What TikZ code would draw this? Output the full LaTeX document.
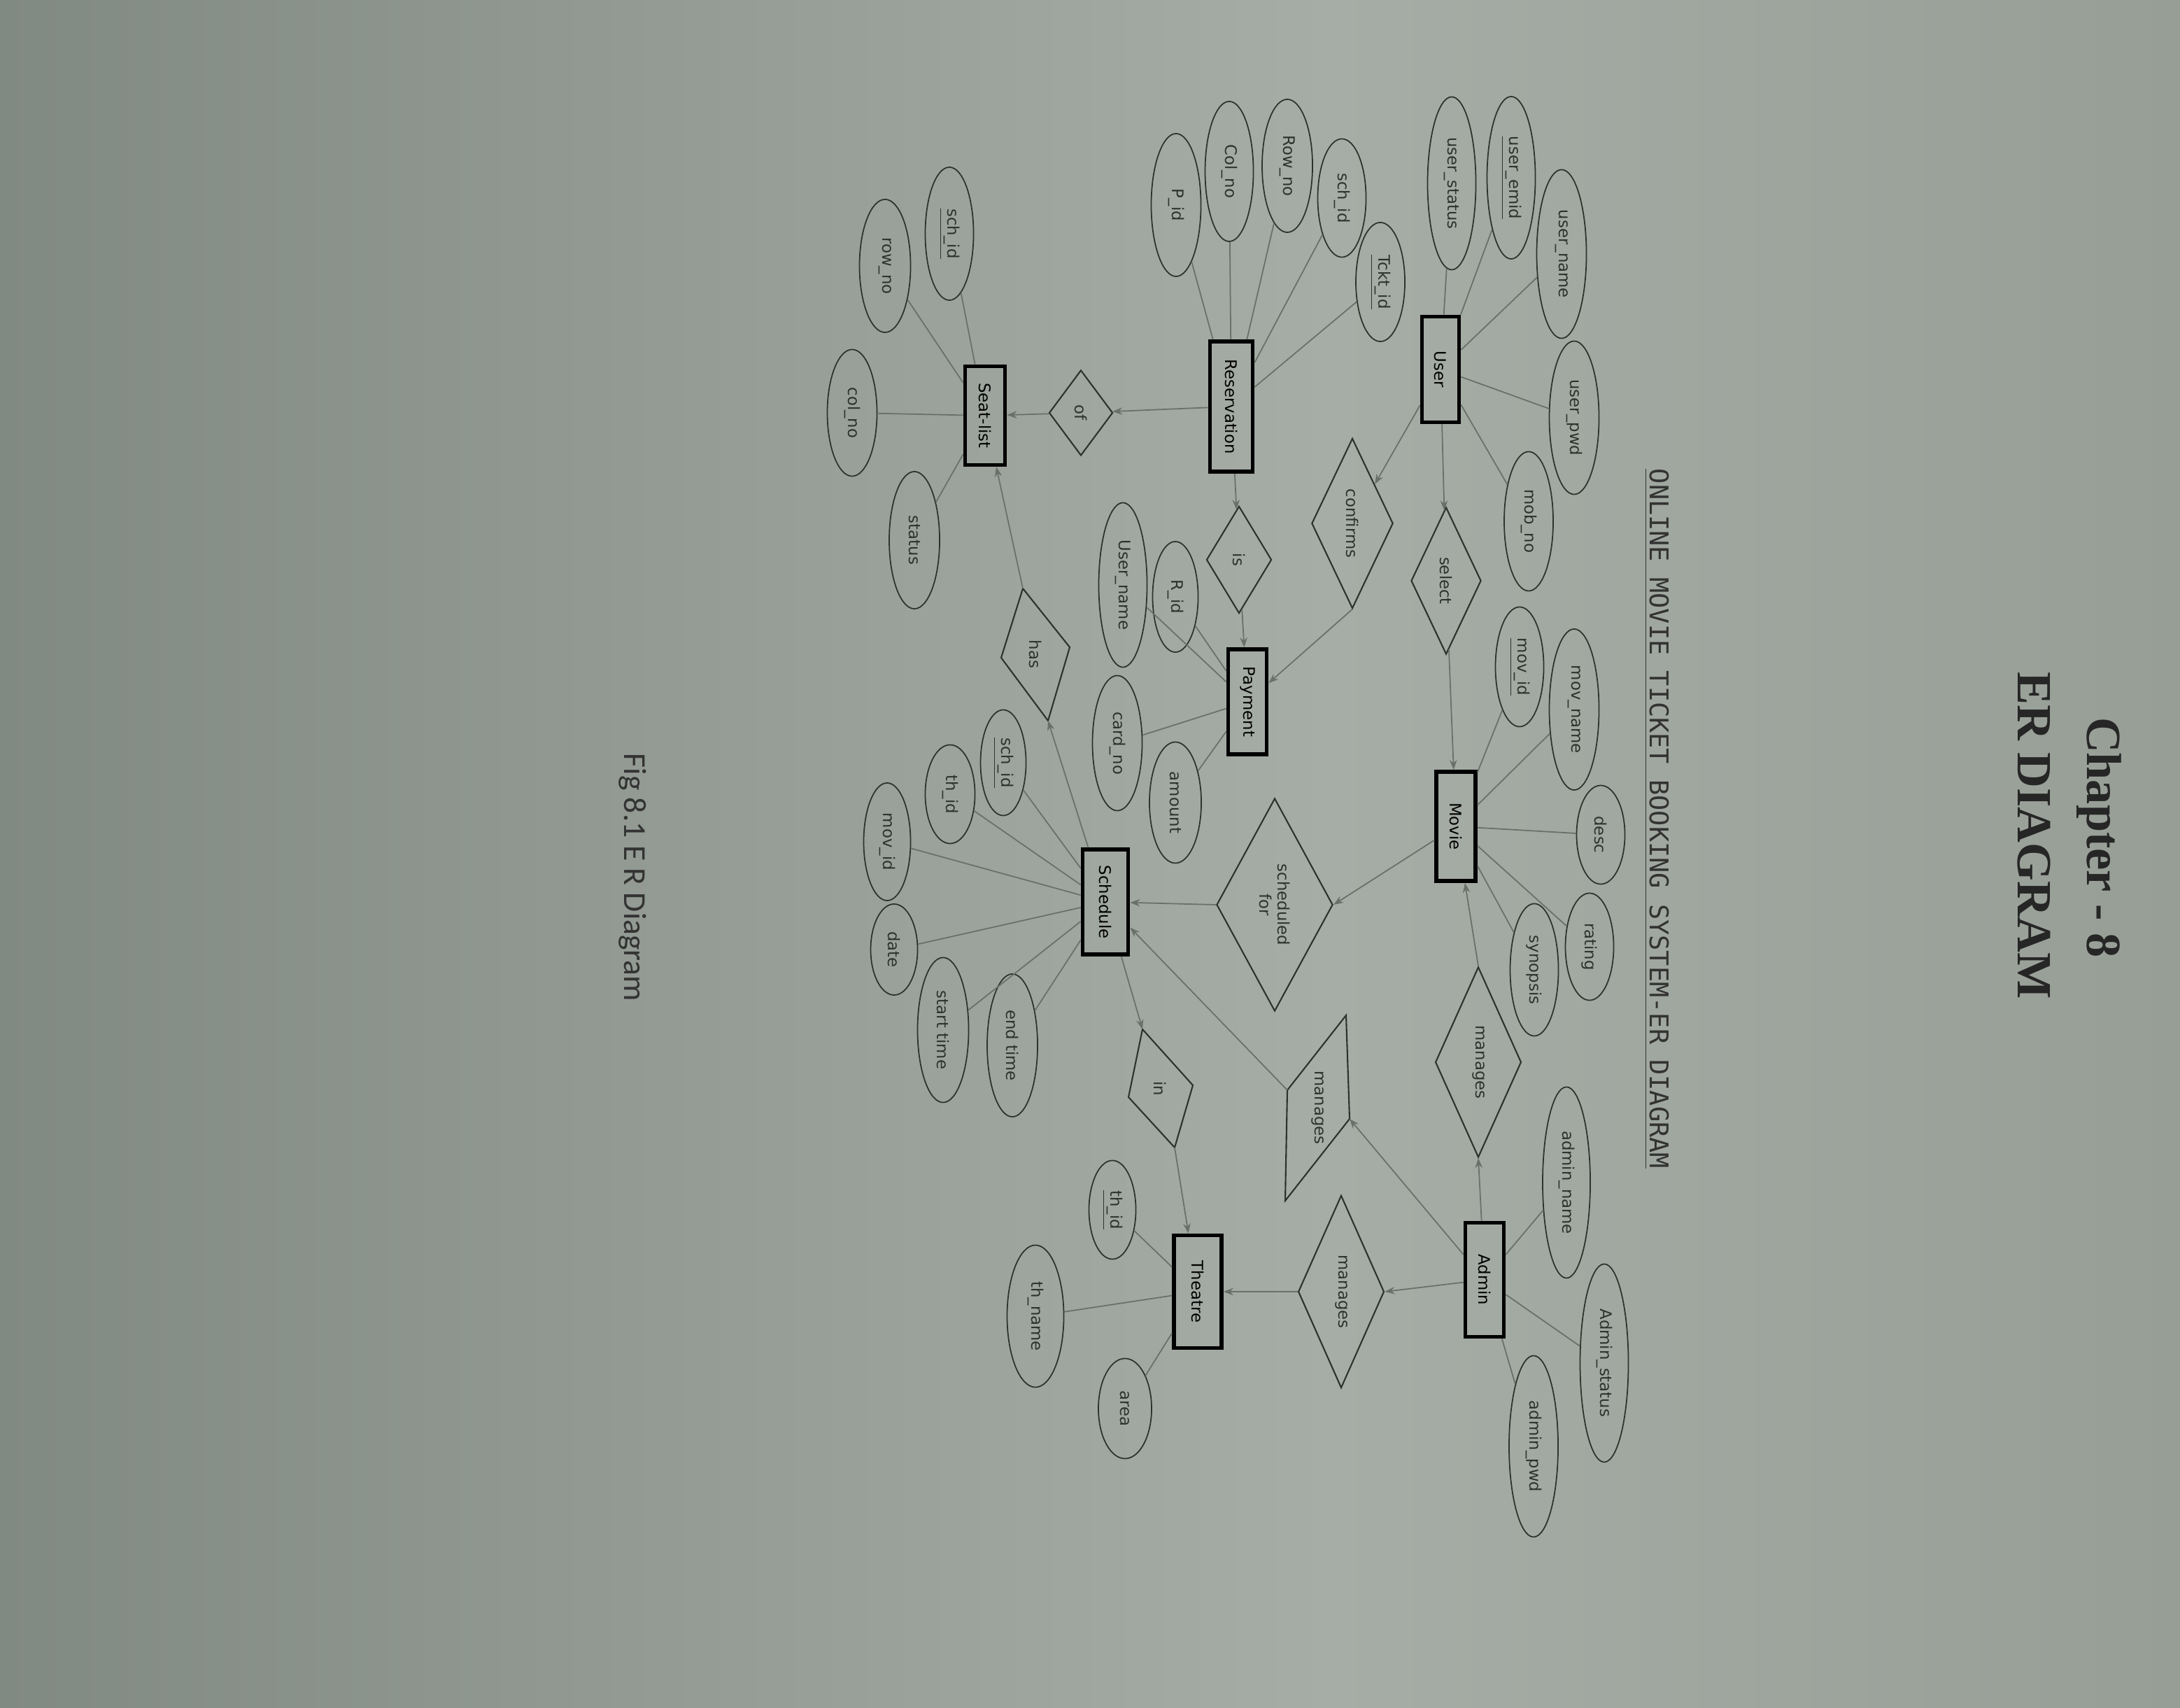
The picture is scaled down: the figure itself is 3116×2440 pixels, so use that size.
\documentclass[tikz,border=0pt]{standalone}
\usepackage{fontspec}
\setmainfont{DejaVu Sans}
\newfontfamily\serifb{Liberation Serif}
\newfontfamily\monof{DejaVu Sans Mono}
\newfontfamily\capf{Carlito}
\usetikzlibrary{shapes.geometric,arrows.meta}
\definecolor{paperL}{RGB}{128,137,130}
\definecolor{paperM}{RGB}{166,173,166}
\definecolor{paperR}{RGB}{150,158,150}
\definecolor{ink}{RGB}{45,50,45}
\definecolor{lnk}{RGB}{105,112,105}
\tikzset{
  attr/.style={ellipse, draw=ink, line width=0.5pt, rotate=-90, inner sep=0pt,
    font=\fontsize{6.5}{7.5}\selectfont, text=ink},
  ent/.style={rectangle, draw=black, line width=1.6pt, rotate=-90, inner sep=0pt,
    font=\fontsize{6.5}{7.5}\selectfont, text=black},
  rel/.style={diamond, draw=ink, line width=0.6pt, rotate=-90, inner sep=0pt,
    font=\fontsize{6.5}{7.5}\selectfont, text=ink, align=center},
  lbl/.style={rotate=-90, inner sep=0pt, font=\fontsize{6.5}{7.5}\selectfont, text=ink},
  relline/.style={draw=ink, line width=0.6pt},
  conn/.style={draw=lnk, line width=0.5pt},
  arr/.style={conn, -{Stealth[length=4pt,width=3pt]}},
}
\begin{document}
\begin{tikzpicture}[x=0.01cm, y=-0.01cm]
\shade[left color=paperL, right color=paperM] (0,0) rectangle (1900,2440);
\shade[left color=paperM, right color=paperR] (1899,0) rectangle (3116,2440);
\useasboundingbox (0,0) rectangle (3116,2440);

% titles
\node[rotate=-90, text=black!85, font=\serifb\bfseries\fontsize{20}{24}\selectfont] (chap) at (3000,1197) {Chapter - 8};
\node[rotate=-90, text=black!85, font=\serifb\bfseries\fontsize{20}{24}\selectfont] (erd) at (2907,1194) {ER DIAGRAM};
\node[rotate=-90, text=black!80, font=\monof\fontsize{10.5}{12}\selectfont] (sub) at (2368,1170) {\underline{ONLINE MOVIE TICKET BOOKING SYSTEM-ER DIAGRAM}};
\node[rotate=-90, text=black!80, font=\capf\fontsize{13}{15}\selectfont] (cap) at (904,1254) {Fig 8.1 E R Diagram};

% entities
\node[ent, minimum width=1.51cm, minimum height=0.53cm] (user) at (2059,528) {User};
\node[ent, minimum width=1.86cm, minimum height=0.61cm] (res) at (1760,581) {Reservation};
\node[ent, minimum width=1.50cm, minimum height=0.55cm] (pay) at (1783,1003) {Payment};
\node[ent, minimum width=1.56cm, minimum height=0.56cm] (movie) at (2081,1181) {Movie};
\node[ent, minimum width=1.50cm, minimum height=0.65cm] (sched) at (1580,1289) {Schedule};
\node[ent, minimum width=1.41cm, minimum height=0.57cm] (seat) at (1408,594) {Seat-list};
\node[ent, minimum width=1.63cm, minimum height=0.55cm] (admin) at (2122,1829) {Admin};
\node[ent, minimum width=1.61cm, minimum height=0.68cm] (theatre) at (1712,1846) {Theatre};

% relationships
\node[rel, minimum width=2.43cm, minimum height=1.03cm] (confirms) at (1933,748) {confirms};
\node[rel, minimum width=2.10cm, minimum height=1.00cm] (select) at (2067,830) {select};
\node[rel, minimum width=1.53cm, minimum height=0.93cm] (is) at (1771,800) {is};
\node[rel, minimum width=1.22cm, minimum height=0.91cm] (of) at (1545,590) {of};
\node[rel, minimum width=3.04cm, minimum height=1.66cm] (schedfor) at (1822,1293) {scheduled\\for};
\node[rel, minimum width=2.72cm, minimum height=1.00cm] (man1) at (2113,1518) {manages};
\node[rel, minimum width=2.75cm, minimum height=1.01cm] (man3) at (1917,1846) {manages};

% skewed relationship shapes
\coordinate (has1) at (1462,841);
\coordinate (has2) at (1529,925);
\coordinate (has3) at (1498,1030);
\coordinate (has4) at (1431,940);
\draw[relline] (has1) -- (has2) -- (has3) -- (has4) -- cycle;
\node[lbl] (hast) at (1480,935) {has};

\coordinate (in1) at (1633,1471);
\coordinate (in2) at (1705,1551);
\coordinate (in3) at (1679,1640);
\coordinate (in4) at (1613,1568);
\draw[relline] (in1) -- (in2) -- (in3) -- (in4) -- cycle;
\node[lbl] (int) at (1658,1556) {in};

\coordinate (par1) at (1924,1451);
\coordinate (par2) at (1929,1599);
\coordinate (par3) at (1837,1716);
\coordinate (par4) at (1840,1558);
\draw[relline] (par1) -- (par2) -- (par3) -- (par4) -- cycle;
\node[lbl] (part) at (1883,1583) {manages};

% attributes: User
\node[attr, minimum width=2.47cm, minimum height=0.69cm] (ustat) at (2075,262) {user\_status};
\node[attr, minimum width=2.32cm, minimum height=0.69cm] (uemid) at (2160,254) {\underline{user\_emid}};
\node[attr, minimum width=2.41cm, minimum height=0.71cm] (uname) at (2232,363) {user\_name};
\node[attr, minimum width=2.19cm, minimum height=0.71cm] (upwd) at (2250,597) {user\_pwd};
\node[attr, minimum width=1.99cm, minimum height=0.70cm] (umob) at (2185,745) {mob\_no};
% Reservation
\node[attr, minimum width=2.04cm, minimum height=0.71cm] (rpid) at (1681,293) {P\_id};
\node[attr, minimum width=2.00cm, minimum height=0.69cm] (rcol) at (1757,245) {Col\_no};
\node[attr, minimum width=1.90cm, minimum height=0.72cm] (rrow) at (1840,237) {Row\_no};
\node[attr, minimum width=1.69cm, minimum height=0.69cm] (rsch) at (1918,283) {sch\_id};
\node[attr, minimum width=1.70cm, minimum height=0.70cm] (rtck) at (1973,403) {\underline{Tckt\_id}};
% Payment
\node[attr, minimum width=1.58cm, minimum height=0.65cm] (prid) at (1680,853) {R\_id};
\node[attr, minimum width=2.35cm, minimum height=0.69cm] (puser) at (1605,836) {User\_name};
\node[attr, minimum width=1.93cm, minimum height=0.71cm] (pcard) at (1597,1062) {card\_no};
\node[attr, minimum width=1.73cm, minimum height=0.74cm] (pamt) at (1680,1147) {amount};
% Movie
\node[attr, minimum width=1.71cm, minimum height=0.69cm] (mid) at (2172,953) {\underline{mov\_id}};
\node[attr, minimum width=2.30cm, minimum height=0.71cm] (mname) at (2250,1014) {mov\_name};
\node[attr, minimum width=1.41cm, minimum height=0.69cm] (mdesc) at (2288,1193) {desc};
\node[attr, minimum width=1.53cm, minimum height=0.69cm] (mrate) at (2272,1353) {rating};
\node[attr, minimum width=1.89cm, minimum height=0.69cm] (msyn) at (2193,1386) {synopsis};
% Schedule
\node[attr, minimum width=1.51cm, minimum height=0.65cm] (ssch) at (1434,1090) {\underline{sch\_id}};
\node[attr, minimum width=1.41cm, minimum height=0.71cm] (sth) at (1358,1135) {th\_id};
\node[attr, minimum width=1.68cm, minimum height=0.67cm] (smov) at (1268,1203) {mov\_id};
\node[attr, minimum width=1.30cm, minimum height=0.67cm] (sdate) at (1278,1357) {date};
\node[attr, minimum width=2.07cm, minimum height=0.73cm] (sstart) at (1348,1472) {start time};
\node[attr, minimum width=2.04cm, minimum height=0.72cm] (send) at (1447,1494) {end time};
% Seat-list
\node[attr, minimum width=1.90cm, minimum height=0.69cm] (lsch) at (1357,334) {\underline{sch\_id}};
\node[attr, minimum width=1.90cm, minimum height=0.73cm] (lrow) at (1265,380) {row\_no};
\node[attr, minimum width=1.81cm, minimum height=0.71cm] (lcol) at (1218,590) {col\_no};
\node[attr, minimum width=1.96cm, minimum height=0.72cm] (lstat) at (1307,772) {status};
% Admin
\node[attr, minimum width=2.73cm, minimum height=0.68cm] (aname) at (2239,1690) {admin\_name};
\node[attr, minimum width=2.83cm, minimum height=0.69cm] (astat) at (2293,1948) {Admin\_status};
\node[attr, minimum width=2.59cm, minimum height=0.70cm] (apwd) at (2192,2067) {admin\_pwd};
% Theatre
\node[attr, minimum width=1.41cm, minimum height=0.67cm] (tid) at (1590,1729) {\underline{th\_id}};
\node[attr, minimum width=2.03cm, minimum height=0.81cm] (tname) at (1480,1881) {th\_name};
\node[attr, minimum width=1.43cm, minimum height=0.76cm] (tarea) at (1608,2013) {area};

% attribute lines
\foreach \a in {ustat,uemid,uname,upwd,umob} \draw[conn] (user) -- (\a);
\foreach \a in {rpid,rcol,rrow,rsch,rtck} \draw[conn] (res) -- (\a);
\foreach \a in {prid,puser,pcard,pamt} \draw[conn] (pay) -- (\a);
\foreach \a in {mid,mname,mdesc,mrate,msyn} \draw[conn] (movie) -- (\a);
\foreach \a in {ssch,sth,smov,sdate,sstart,send} \draw[conn] (sched) -- (\a);
\foreach \a in {lsch,lrow,lcol,lstat} \draw[conn] (seat) -- (\a);
\foreach \a in {aname,astat,apwd} \draw[conn] (admin) -- (\a);
\foreach \a in {tid,tname,tarea} \draw[conn] (theatre) -- (\a);

% relationship connectors
\draw[arr] (user) -- (confirms);
\draw[arr] (confirms.east) -- (pay);
\draw[arr] (user) -- (select);
\draw[arr] (select) -- (movie);
\draw[arr] (res) -- (is);
\draw[arr] (is) -- (pay);
\draw[arr] (res) -- (of);
\draw[arr] (of) -- (seat);
\draw[arr] (movie) -- (schedfor.north);
\draw[arr] (schedfor.south) -- (sched);
\draw[arr] (admin) -- (man1.east);
\draw[arr] (man1.west) -- (movie);
\draw[arr] (admin) -- (par2);
\draw[arr] (par4) -- (sched);
\draw[arr] (admin) -- (man3.north);
\draw[arr] (man3.south) -- (theatre);
\draw[arr] (sched) -- (in1);
\draw[arr] (in3) -- (theatre);
\draw[arr] (sched) -- (has3);
\draw[arr] (has1) -- (seat);
\end{tikzpicture}
\end{document}
